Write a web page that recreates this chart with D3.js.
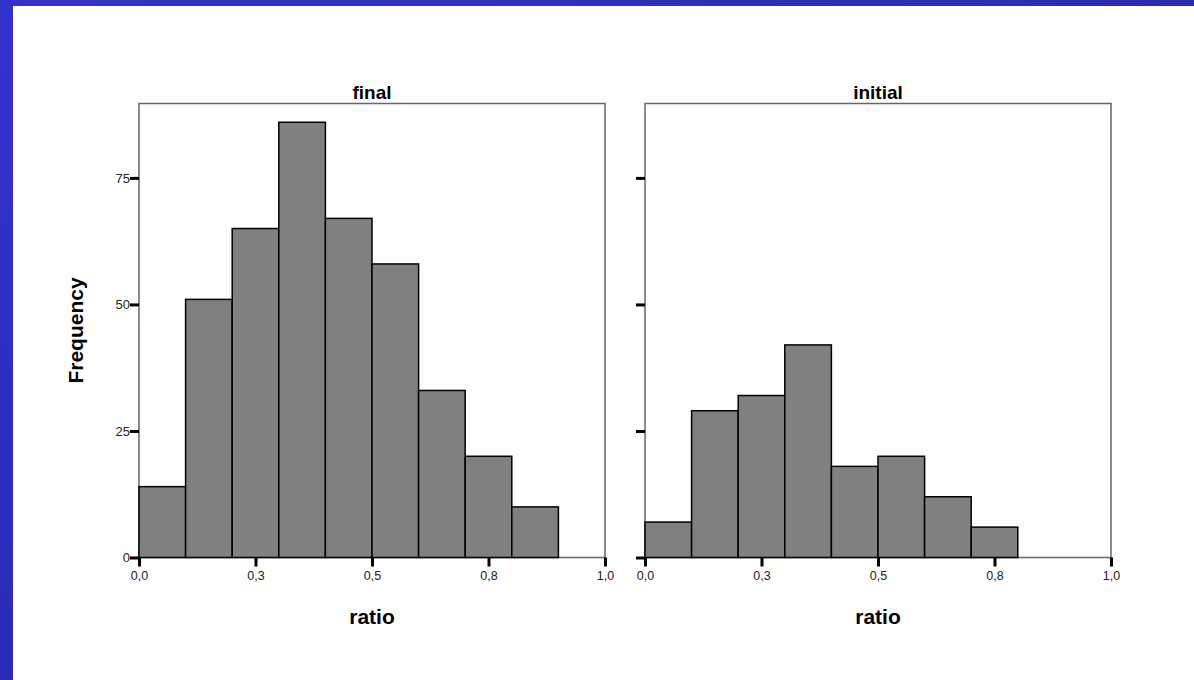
<!DOCTYPE html>
<html>
<head>
<meta charset="utf-8">
<script src="https://cdn.jsdelivr.net/npm/d3@7"></script>
<style>
  body { margin: 0; background: #fff; }
  svg { display: block; font-family: "Liberation Sans", Arial, sans-serif; }
</style>
</head>
<body>
<svg id="chart" width="1194" height="680"></svg>
<script>
// bins of width 0.1 starting at 0
const binEdges = [0, 0.1, 0.2, 0.3, 0.4, 0.5, 0.6, 0.7, 0.8, 0.9];
const finalCounts = [14, 51, 65, 86, 67, 58, 33, 20, 10];
const initialCounts = [7, 29, 32, 42, 18, 20, 12, 6];
const panelNames = ["final", "initial"];
const xTickValues = [0, 0.25, 0.5, 0.75, 1];
const xTickLabels = ["0,0", "0,3", "0,5", "0,8", "1,0"];
const yTickValues = [0, 25, 50, 75];
const yTickLabels = ["0", "25", "50", "75"];

const svg = d3.select("#chart");

// blue frame (left + top bands)
const defs = svg.append("defs");
const grad = defs.append("linearGradient").attr("id", "frameGrad")
  .attr("x1", "0").attr("y1", "0").attr("x2", "1").attr("y2", "1");
grad.append("stop").attr("offset", "0%").attr("stop-color", "#3333cc");
grad.append("stop").attr("offset", "100%").attr("stop-color", "#22229a");
svg.append("rect").attr("x", 0).attr("y", 0).attr("width", 1194).attr("height", 680).attr("fill", "url(#frameGrad)");
svg.append("rect").attr("x", 13).attr("y", 6).attr("width", 1194 - 13).attr("height", 680 - 6).attr("fill", "#fff");

const panelW = 466, plotTop = 103.5, plotBottom = 557.5;
const panelLeft = [139, 645];

const y = d3.scaleLinear().domain([0, 89.7]).range([plotBottom, plotTop]);

const datasets = [finalCounts, initialCounts];

panelNames.forEach((name, p) => {
  const x0 = panelLeft[p];
  const x = d3.scaleLinear().domain([0, 1]).range([x0, x0 + panelW]);
  const g = svg.append("g");

  // frame
  g.append("rect")
    .attr("x", x0).attr("y", plotTop)
    .attr("width", panelW).attr("height", plotBottom - plotTop)
    .attr("fill", "none").attr("stroke", "#666").attr("stroke-width", 1.5);

  // bars
  const counts = datasets[p];
  g.selectAll("rect.bar")
    .data(counts)
    .enter().append("rect")
    .attr("class", "bar")
    .attr("x", (d, i) => x(binEdges[i]))
    .attr("width", (d, i) => x(binEdges[i + 1]) - x(binEdges[i]))
    .attr("y", d => y(d))
    .attr("height", d => y(0) - y(d))
    .attr("fill", "#808080")
    .attr("stroke", "#000")
    .attr("stroke-width", 1.5);

  // x axis
  const xAxis = g.append("g")
    .attr("transform", "translate(0," + plotBottom + ")")
    .call(d3.axisBottom(x).tickValues(xTickValues)
      .tickFormat((d, i) => xTickLabels[i]).tickSize(9).tickPadding(5));
  xAxis.select(".domain").remove();
  xAxis.selectAll("line").attr("stroke", "#000").attr("stroke-width", 3);
  xAxis.selectAll("text").attr("font-size", 12.5).attr("fill", "#222")
    .attr("font-family", "'Liberation Sans', Arial, sans-serif");

  // y axis
  const yAxis = g.append("g")
    .attr("transform", "translate(" + x0 + ",0)")
    .call(d3.axisLeft(y).tickValues(yTickValues)
      .tickFormat((d, i) => p === 0 ? yTickLabels[i] : "").tickSize(9).tickPadding(0));
  yAxis.select(".domain").remove();
  yAxis.selectAll("line").attr("stroke", "#000").attr("stroke-width", 3);
  yAxis.selectAll("text").attr("font-size", 13).attr("fill", "#222")
    .attr("font-family", "'Liberation Sans', Arial, sans-serif");

  // panel title
  g.append("text")
    .attr("x", x0 + panelW / 2).attr("y", 99)
    .attr("text-anchor", "middle")
    .attr("font-size", 19).attr("font-weight", "bold").attr("fill", "#000")
    .text(name);

  // x title
  g.append("text")
    .attr("x", x0 + panelW / 2).attr("y", 624)
    .attr("text-anchor", "middle")
    .attr("font-size", 21).attr("font-weight", "bold").attr("fill", "#000")
    .text("ratio");
});

// y title
svg.append("text")
  .attr("transform", "translate(83," + (plotTop + plotBottom) / 2 + ") rotate(-90)")
  .attr("text-anchor", "middle")
  .attr("font-size", 21).attr("font-weight", "bold").attr("fill", "#000")
  .text("Frequency");
</script>
</body>
</html>
